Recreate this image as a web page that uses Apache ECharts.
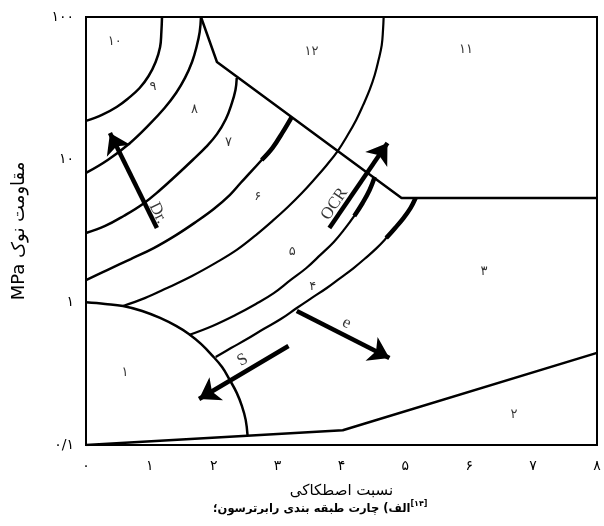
<!DOCTYPE html>
<html><head><meta charset="utf-8">
<script src="https://cdn.jsdelivr.net/npm/echarts@6/dist/echarts.min.js"></script>
<style>html,body{margin:0;padding:0;background:#fff}#c{width:604px;height:526px}</style>
</head><body><div id="c"></div>
<script>
// ---- data (x: friction ratio %, y: cone resistance MPa) ----
const xTickLabels = ['۰','۱','۲','۳','۴','۵','۶','۷','۸'];
const yTickValues = [0.1, 1, 10, 100];
const yTickLabels = ['۰/۱','۱','۱۰','۱۰۰'];

const arc9_10 = [[1.19,100],[1.18,78.5],[1.16,61.6],[1.09,48.4],[0.98,38.6],[0.84,31.8],[0.67,27.1],[0.48,23.4],[0.25,20.6],[0,18.7]];
const arc8_9 = [[1.80,100],[1.78,78.5],[1.73,61.6],[1.66,48.4],[1.55,37.4],[1.41,29.3],[1.23,23.0],[1.0,17.8],[0.69,13.1],[0.34,9.95],[0,8.07]];
const arc7_8 = [[2.36,37.4],[2.34,30.8],[2.28,24.6],[2.19,19.3],[2.05,15.1],[1.88,12.3],[1.67,9.95],[1.42,7.81],[1.16,6.13],[0.89,4.89],[0.59,4.03],[0.30,3.43],[0,3.06]];
const arc6_7 = [[3.22,19.9],[3.08,15.6],[2.92,12.1],[2.75,9.95],[2.58,8.20],[2.42,6.86],[2.25,5.65],[2.0,4.51],[1.72,3.66],[1.41,2.96],[1.06,2.40],[0.70,2.01],[0.34,1.69],[0,1.43]];
const arc5_6 = [[4.66,100],[4.65,81.1],[4.63,63.6],[4.58,49.9],[4.52,39.2],[4.44,30.8],[4.34,24.2],[4.23,19.0],[4.09,14.7],[3.94,11.5],[3.77,9.18],[3.58,7.32],[3.38,5.84],[3.16,4.66],[2.92,3.72],[2.66,2.96],[2.36,2.33],[2.03,1.89],[1.66,1.53],[1.27,1.26],[0.92,1.07],[0.58,0.943]];
const arc4_5 = [[4.52,7.56],[4.44,6.13],[4.33,4.97],[4.20,4.03],[4.05,3.27],[3.88,2.65],[3.67,2.15],[3.45,1.74],[3.20,1.43],[2.94,1.16],[2.66,0.974],[2.34,0.815],[1.98,0.683],[1.61,0.590]];
const arc3_4 = [[5.16,5.39],[5.08,4.58],[4.97,3.90],[4.84,3.32],[4.70,2.82],[4.55,2.40],[4.38,2.05],[4.19,1.74],[3.98,1.48],[3.77,1.26],[3.53,1.07],[3.30,0.913],[3.05,0.764],[2.78,0.650],[2.52,0.553],[2.27,0.478],[2.03,0.414]];
const zone1Arc = [[0,1.0],[0.30,0.974],[0.58,0.943],[0.88,0.870],[1.16,0.777],[1.41,0.683],[1.61,0.600],[1.80,0.511],[1.97,0.427],[2.13,0.352],[2.25,0.286],[2.36,0.232],[2.44,0.188],[2.50,0.150],[2.53,0.116]];
const zone12Line = [[1.80,100],[2.05,48.4],[4.94,5.38],[8,5.38]];
const zone2Line = [[0,0.1],[4.02,0.127],[8,0.442]];

const arrowDr = [[1.11,3.32],[0.375,15.4]];
const arrowOCR = [[3.81,3.32],[4.72,13.1]];
const arrowE = [[3.30,0.869],[4.75,0.407]];
const arrowS = [[3.17,0.494],[1.77,0.210]];

const zoneNames = ['۱۰','۹','۸','۷','۶','۵','۴','۳','۲','۱','۱۲','۱۱'];
const zonePos = [[0.45,66.8],[1.05,32.3],[1.70,22.3],[2.23,13.1],[2.69,5.47],[3.23,2.25],[3.55,1.28],[6.23,1.63],[6.70,0.162],[0.61,0.320],[3.53,56.9],[5.95,58.8]];

const arrowNames = ['Dr.','OCR','e','S'];
const arrowLabelPos = [[1.125,4.23],[3.89,4.89],[4.08,0.716],[2.45,0.394]];

const xName = 'نسبت اصطکاکی';
const yName = 'مقاومت نوک MPa';
const caption = 'الف) چارت طبقه بندی رابرترسون؛';
const captionRef = '[۱۴]';

// ---- chart ----
const RLE = '\u202B', PDF = '\u202C';
const faFont = 'DejaVu Sans';
const latFont = 'Liberation Serif';
const arrowRot = [-64, 56, -27, 30];

function curve(data, w, smooth) {
  return { type: 'line', data: data, showSymbol: false, symbol: 'none', smooth: smooth,
    lineStyle: { color: '#000', width: w }, silent: true, z: 3 };
}
function arrow(coords) {
  return { type: 'lines', coordinateSystem: 'cartesian2d', data: [{ coords: coords }],
    symbol: ['none', 'arrow'], symbolSize: 20, lineStyle: { color: '#000', width: 4.5, opacity: 1 },
    silent: true, z: 5 };
}

const series = [
  curve(arc9_10, 2.5, 0.4), curve(arc8_9, 2.5, 0.4), curve(arc7_8, 2.5, 0.4),
  curve(arc6_7, 2.5, 0.4), curve(arc5_6, 2.2, 0.4), curve(arc4_5, 2.2, 0.4),
  curve(arc3_4, 2.2, 0.4), curve(zone1Arc, 2.5, 0.4),
  curve(zone12Line, 2.5, false), curve(zone2Line, 2.5, false),
  curve(arc6_7.slice(0, 4), 4.5, 0.4), curve(arc4_5.slice(0, 4), 4.5, 0.4), curve(arc3_4.slice(0, 5), 4.5, 0.4),
  arrow(arrowDr), arrow(arrowOCR), arrow(arrowE), arrow(arrowS),
  { type: 'scatter', symbolSize: 0, silent: true, z: 6,
    data: zonePos.map((p, i) => ({ value: p, label: { formatter: zoneNames[i] } })),
    label: { show: true, position: 'inside', color: '#000', fontFamily: faFont, fontSize: 13 } },
  { type: 'scatter', symbolSize: 0, silent: true, z: 6,
    data: arrowLabelPos.map((p, i) => ({ value: p, label: { formatter: arrowNames[i], rotate: arrowRot[i] } })),
    label: { show: true, position: 'inside', color: '#000', fontFamily: latFont, fontSize: 17 } }
];

const chart = echarts.init(document.getElementById('c'), null, { renderer: 'canvas' });
chart.setOption({
  animation: false,
  backgroundColor: '#fff',
  title: {
    text: '{m|' + RLE + caption + PDF + '}{s|' + captionRef + '}',
    left: 208, bottom: 6,
    textStyle: { rich: {
      m: { fontFamily: faFont, fontWeight: 'bold', fontSize: 11.5, color: '#000', verticalAlign: 'bottom' },
      s: { fontFamily: faFont, fontWeight: 'bold', fontSize: 8, color: '#000', verticalAlign: 'top', padding: [0, 0, 7, 0] }
    } }
  },
  grid: { left: 86, right: 7, top: 17, bottom: 81, show: true, borderColor: '#000', borderWidth: 2, containLabel: false },
  xAxis: {
    type: 'value', min: 0, max: 8, interval: 1,
    axisLine: { show: false }, axisTick: { show: false }, splitLine: { show: false },
    axisLabel: { margin: 14, color: '#000', fontFamily: faFont, fontSize: 14,
      formatter: v => xTickLabels[Math.round(v)] },
    name: RLE + xName + PDF, nameLocation: 'middle', nameGap: 39,
    nameTextStyle: { color: '#000', fontFamily: faFont, fontSize: 15 }
  },
  yAxis: {
    type: 'log', logBase: 10, min: 0.1, max: 100,
    axisLine: { show: false }, axisTick: { show: false }, splitLine: { show: false }, minorSplitLine: { show: false },
    axisLabel: { margin: 12, color: '#000', fontFamily: faFont, fontSize: 14,
      formatter: v => { const k = yTickValues.findIndex(t => Math.abs(Math.log10(t) - Math.log10(v)) < 1e-6); return k >= 0 ? yTickLabels[k] : ''; } },
    name: RLE + yName + PDF, nameLocation: 'middle', nameGap: 58, nameRotate: 90,
    nameTextStyle: { color: '#000', fontFamily: faFont, fontSize: 18 }
  },
  series: series
});
</script></body></html>
